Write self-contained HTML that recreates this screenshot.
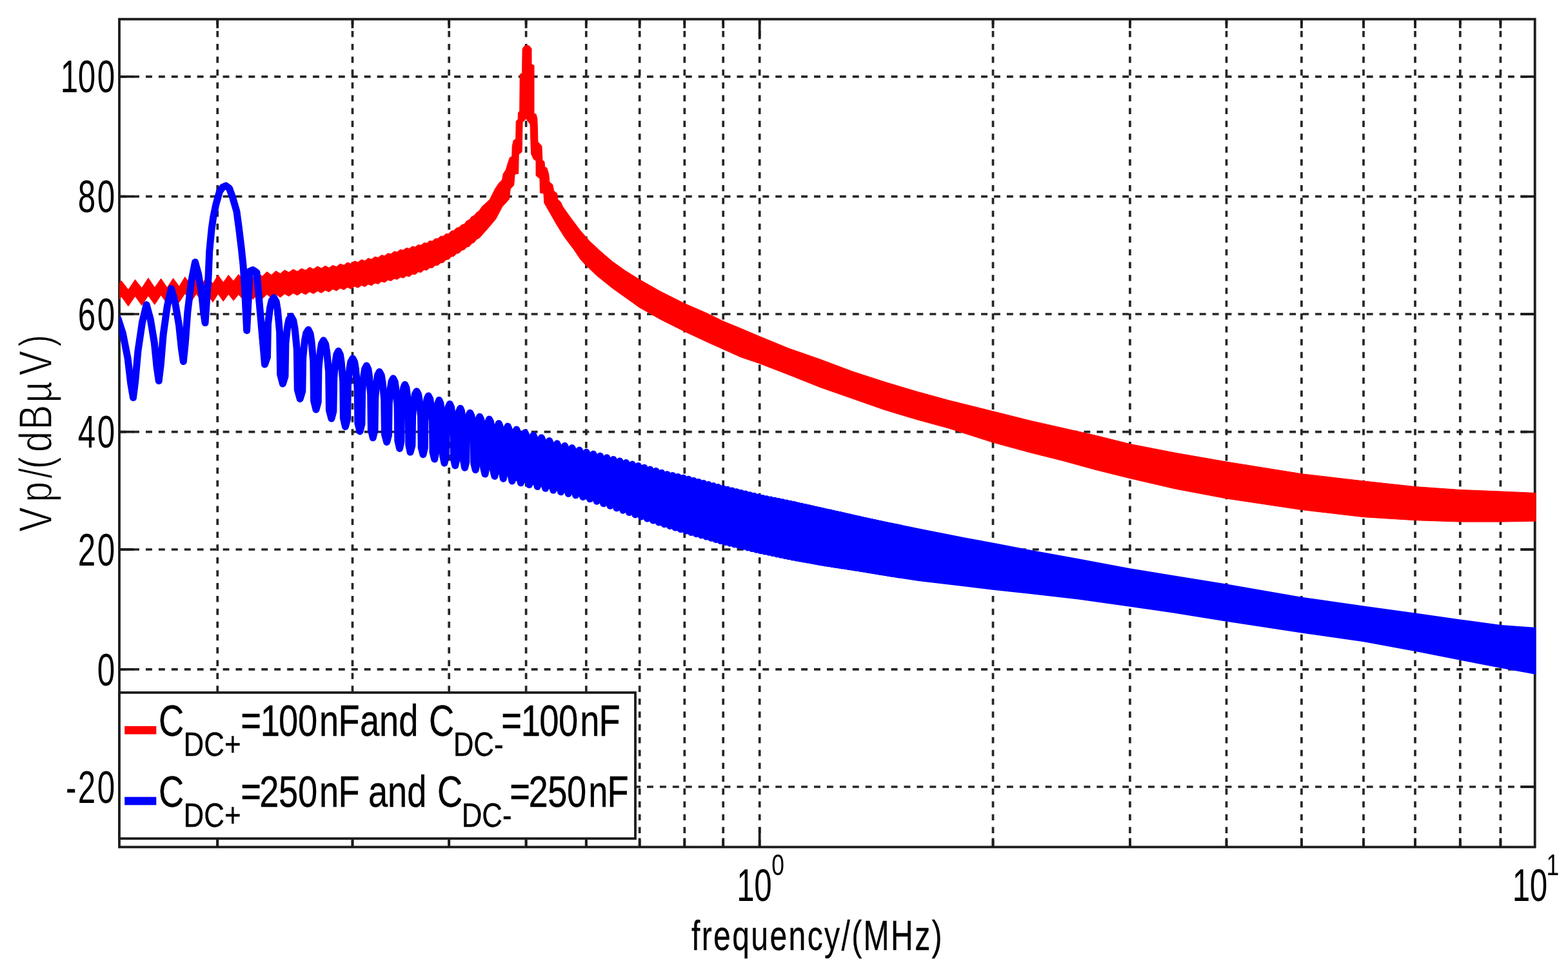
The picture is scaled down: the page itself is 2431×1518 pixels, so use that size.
<!DOCTYPE html>
<html lang="en"><head><meta charset="utf-8"><title>Vp spectrum</title>
<style>
html,body{margin:0;padding:0;background:#fff;}
body{width:2431px;height:1518px;overflow:hidden;}
svg{display:block;font-family:'Liberation Sans', Arial, Helvetica, sans-serif;filter:blur(0.7px);}
</style></head><body>
<svg xmlns="http://www.w3.org/2000/svg" width="2431" height="1518" viewBox="0 0 2431 1518">
<rect x="0" y="0" width="2431" height="1518" fill="#fff"/>
<g stroke="#262626" stroke-width="3.7" fill="none">
<path stroke-dasharray="9.6 10.308" d="M337.2 28.1V1313.4"/>
<path stroke-dasharray="9.6 10.308" d="M546.5 28.1V1313.4"/>
<path stroke-dasharray="9.6 10.308" d="M696.2 28.1V1313.4"/>
<path stroke-dasharray="9.6 10.308" d="M815.6 28.1V1313.4"/>
<path stroke-dasharray="9.6 10.308" d="M908.8 28.1V1313.4"/>
<path stroke-dasharray="9.6 10.308" d="M991.7 28.1V1313.4"/>
<path stroke-dasharray="9.6 10.308" d="M1061.3 28.1V1313.4"/>
<path stroke-dasharray="9.6 10.308" d="M1121.2 28.1V1313.4"/>
<path stroke-dasharray="9.6 10.308" d="M1177.7 28.1V1313.4"/>
<path stroke-dasharray="9.6 10.308" d="M1539.5 28.1V1313.4"/>
<path stroke-dasharray="9.6 10.308" d="M1751.9 28.1V1313.4"/>
<path stroke-dasharray="9.6 10.308" d="M1901.5 28.1V1313.4"/>
<path stroke-dasharray="9.6 10.308" d="M2017.9 28.1V1313.4"/>
<path stroke-dasharray="9.6 10.308" d="M2114.0 28.1V1313.4"/>
<path stroke-dasharray="9.6 10.308" d="M2194.0 28.1V1313.4"/>
<path stroke-dasharray="9.6 10.308" d="M2263.8 28.1V1313.4"/>
<path stroke-dasharray="9.6 10.308" d="M2326.4 28.1V1313.4"/>
<path stroke-dasharray="9.9 10.024" d="M186.15 118.8H2379.7"/>
<path stroke-dasharray="9.9 10.024" d="M186.15 304.7H2379.7"/>
<path stroke-dasharray="9.9 10.024" d="M186.15 487.0H2379.7"/>
<path stroke-dasharray="9.9 10.024" d="M186.15 669.7H2379.7"/>
<path stroke-dasharray="9.9 10.024" d="M186.15 852.0H2379.7"/>
<path stroke-dasharray="9.9 10.024" d="M186.15 1037.9H2379.7"/>
<path stroke-dasharray="9.9 10.024" d="M186.15 1220.0H2379.7"/>
</g>
<g stroke="#1c1c1c" stroke-width="3.8" fill="none" stroke-linecap="butt">
<rect x="185.0" y="29.7" width="2194.7" height="1283.7"/>
<path d="M185.0 118.8h22.5M2379.7 118.8h-22.5"/>
<path d="M185.0 304.7h22.5M2379.7 304.7h-22.5"/>
<path d="M185.0 487.0h22.5M2379.7 487.0h-22.5"/>
<path d="M185.0 669.7h22.5M2379.7 669.7h-22.5"/>
<path d="M185.0 852.0h22.5M2379.7 852.0h-22.5"/>
<path d="M185.0 1037.9h22.5M2379.7 1037.9h-22.5"/>
<path d="M185.0 1220.0h22.5M2379.7 1220.0h-22.5"/>
<path d="M337.2 29.7v14M337.2 1313.4v-14"/>
<path d="M546.5 29.7v14M546.5 1313.4v-14"/>
<path d="M696.2 29.7v14M696.2 1313.4v-14"/>
<path d="M815.6 29.7v14M815.6 1313.4v-14"/>
<path d="M908.8 29.7v14M908.8 1313.4v-14"/>
<path d="M991.7 29.7v14M991.7 1313.4v-14"/>
<path d="M1061.3 29.7v14M1061.3 1313.4v-14"/>
<path d="M1121.2 29.7v14M1121.2 1313.4v-14"/>
<path d="M1177.7 29.7v31M1177.7 1313.4v-31"/>
<path d="M1539.5 29.7v14M1539.5 1313.4v-14"/>
<path d="M1751.9 29.7v14M1751.9 1313.4v-14"/>
<path d="M1901.5 29.7v14M1901.5 1313.4v-14"/>
<path d="M2017.9 29.7v14M2017.9 1313.4v-14"/>
<path d="M2114.0 29.7v14M2114.0 1313.4v-14"/>
<path d="M2194.0 29.7v14M2194.0 1313.4v-14"/>
<path d="M2263.8 29.7v14M2263.8 1313.4v-14"/>
<path d="M2326.4 29.7v14M2326.4 1313.4v-14"/>
</g>
<clipPath id="pc"><rect x="185.0" y="29.7" width="2196.3" height="1283.7"/></clipPath>
<g clip-path="url(#pc)">
<path d="M142.8 436.0L154.5 451.0L166.0 436.0L177.2 451.0L188.2 435.3L198.9 449.3L209.5 433.6L219.8 446.6L229.9 431.1L239.8 445.8L249.6 432.0L259.1 445.9L268.5 431.6L277.8 444.1L286.8 429.3L295.7 442.3L304.5 428.3L313.1 441.0L321.6 427.3L329.9 439.9L338.1 426.5L346.2 437.9L354.2 426.5L362.0 435.7L369.8 425.4L377.4 433.0L384.9 424.0L392.3 430.7L399.6 422.7L406.8 428.5L413.8 421.4L420.8 426.4L427.8 420.1L434.6 424.3L441.3 418.8L447.9 422.3L454.5 417.6L461.0 420.9L467.4 416.3L473.7 419.1L480.0 414.4L486.1 417.2L492.2 412.9L498.3 416.1L504.2 412.2L510.1 415.3L515.9 411.4L521.7 413.6L527.4 409.2L533.1 411.2L538.6 407.0L544.1 408.9L549.6 404.8L555.0 406.6L560.4 402.6L565.7 404.4L570.9 400.4L576.1 402.1L581.2 398.1L586.3 399.4L591.4 395.5L596.4 396.7L601.3 392.8L606.2 393.8L611.1 389.8L615.9 390.7L620.6 386.9L625.4 387.8L630.0 384.3L634.7 385.4L639.3 381.9L643.8 383.0L648.3 379.6L652.8 380.3L657.3 376.6L661.7 377.1L666.0 373.5L670.4 373.9L674.7 370.0L678.9 370.0L683.1 366.2L687.3 366.2L691.5 362.5L695.6 362.5L699.7 358.2L703.8 357.5L707.8 353.3L711.8 352.6L715.8 348.5L719.7 347.6L723.6 342.5L727.5 340.8L731.3 335.9L735.2 334.2L739.0 329.4L742.7 327.1L747.6 320.0L753.6 314.8L759.5 308.9L763.5 301.0L767.5 293.0L773.4 284.1L778.4 279.1L780.4 269.2L784.3 263.3L787.3 253.3L790.3 244.4L793.8 242.4L794.2 226.5L796.2 217.6L799.7 215.6L800.2 187.9L803.2 185.0L803.4 175.0L805.7 172.0L806.2 115.4L809.6 113.4L810.1 75.7L813.0 71.5L817.1 69.8L821.0 71.5L824.0 75.7L824.0 99.5L828.0 101.5L828.0 176.0L831.0 177.0L832.9 183.9L833.9 219.6L839.9 226.5L840.9 248.4L843.8 250.4L844.8 259.3L847.8 260.3L850.8 270.2L851.8 282.1L856.7 286.1L858.7 296.0L863.7 300.0L864.7 308.9L869.6 313.8L872.5 320.4L884.9 337.7L899.8 357.6L914.7 374.5L932.0 390.5L949.5 405.5L969.2 419.6L991.3 433.3L1024.0 451.9L1061.2 470.5L1098.4 486.7L1120.7 497.8L1148.0 509.0L1177.3 521.4L1222.4 540.0L1272.0 557.3L1321.7 575.9L1371.3 592.1L1420.9 606.9L1470.5 620.6L1539.4 637.7L1598.4 652.5L1648.0 663.7L1697.6 674.9L1752.2 688.5L1821.7 702.1L1901.4 716.0L2018.0 734.7L2114.3 745.9L2194.1 754.6L2264.1 759.5L2327.1 762.0L2390.0 764.8L2390.0 807.9L2327.1 809.1L2264.1 809.1L2194.1 806.7L2114.3 801.7L2018.0 790.5L1901.4 773.0L1821.7 757.9L1752.2 741.8L1697.6 728.2L1648.0 714.5L1598.4 702.1L1539.4 686.0L1470.5 664.0L1420.9 650.4L1371.3 635.5L1321.7 618.1L1272.0 600.7L1222.4 580.9L1177.3 563.5L1148.0 553.6L1120.7 541.2L1098.4 531.3L1061.2 513.9L1024.0 495.3L991.3 476.7L949.6 447.0L924.8 427.1L907.2 410.0L900.0 402.3L889.9 387.3L875.0 367.5L862.6 347.6L852.7 330.3L846.8 320.0L843.8 314.8L842.9 300.0L837.4 299.0L836.9 277.1L831.0 272.2L831.0 249.4L827.0 246.4L823.5 238.5L822.0 192.8L815.6 183.9L810.1 189.8L809.1 235.5L804.2 239.4L803.7 269.2L798.2 270.2L796.7 287.1L791.3 293.0L789.3 308.9L781.3 317.8L778.6 320.8L768.7 339.6L758.7 351.5L743.8 368.4L742.7 369.3L739.0 371.1L735.2 375.9L731.3 377.7L727.5 382.3L723.6 383.1L719.7 387.3L715.8 388.2L711.8 392.5L707.8 393.2L703.8 397.3L699.7 397.9L695.6 402.2L691.5 402.8L687.3 407.2L683.1 407.6L678.9 411.4L674.7 411.4L670.4 415.3L666.0 415.3L661.7 419.0L657.3 418.5L652.8 422.3L648.3 421.7L643.8 425.6L639.3 425.0L634.7 428.9L630.0 427.7L625.4 431.1L620.6 429.8L615.9 433.3L611.1 432.0L606.2 435.5L601.3 434.2L596.4 437.9L591.4 436.5L586.3 440.3L581.2 438.9L576.1 442.7L570.9 440.8L565.7 444.5L560.4 442.4L555.0 446.2L549.6 444.1L544.1 447.9L538.6 445.5L533.1 449.3L527.4 446.8L521.7 450.9L515.9 448.4L510.1 452.6L504.2 450.1L498.3 454.2L492.2 451.2L486.1 455.4L480.0 452.4L473.7 456.7L467.4 453.5L461.0 457.9L454.5 454.6L447.9 459.3L441.3 455.7L434.6 461.0L427.8 456.3L420.8 462.0L413.8 456.5L406.8 463.0L399.6 456.6L392.3 464.0L384.9 456.8L377.4 465.1L369.8 456.6L362.0 466.1L354.2 456.1L346.2 467.2L338.1 455.7L329.9 468.6L321.6 455.6L313.1 468.7L304.5 455.4L295.7 468.7L286.8 455.1L277.8 468.8L268.5 456.0L259.1 470.9L249.6 457.5L239.8 472.3L229.9 458.5L219.8 473.4L209.5 459.4L198.9 474.7L188.2 459.8L177.2 474.5L166.0 459.5L154.5 474.5L142.8 459.5Z" fill="#ff0000" stroke="#ff0000" stroke-width="1" stroke-linejoin="round"/>
<path d="M183.0 494.0L190.5 517.3L198.0 555.2L202.7 594.5L206.5 616.5L209.8 590.6L213.9 544.5L220.5 499.9L227.1 472.5L233.2 494.9L239.3 531.5L243.1 569.3L246.2 590.5L249.3 564.8L253.1 519.0L259.3 474.7L265.5 447.5L271.5 469.0L277.5 504.0L281.3 540.2L284.3 560.5L287.2 532.8L290.9 483.5L296.7 435.8L302.5 406.5L307.5 424.4L312.4 453.5L315.5 483.6L318.0 500.5L323.0 430.0L324.7 389.7L328.0 355.8L330.8 336.0L334.6 317.8L340.4 297.0L345.0 290.5L350.3 288.0L355.5 292.0L360.2 304.6L366.9 327.7L370.5 354.2L374.3 385.6L377.1 412.0L379.3 445.1L382.6 512.5L387.5 420.5L392.0 418.5L398.0 422.5L410.5 565.0L414.5 553.6L415.5 502.9L416.6 493.6L418.7 477.0L421.0 466.7L424.7 461.5L428.3 468.2L430.5 481.5L432.5 502.9L433.6 514.9L434.6 580.3L438.4 595.0L442.0 583.5L442.9 532.3L443.9 522.9L445.8 506.2L447.9 495.7L451.2 490.5L454.8 496.9L457.1 509.7L459.2 530.2L460.3 541.7L461.3 604.4L465.2 618.5L468.8 606.7L469.7 554.2L470.7 544.5L472.6 527.4L474.7 516.7L478.0 511.3L481.1 517.5L483.0 529.9L484.8 549.7L485.8 560.8L486.6 621.5L490.0 635.1L493.2 623.3L494.0 570.7L494.9 561.1L496.7 543.9L498.5 533.2L501.5 527.8L504.7 533.9L506.7 546.0L508.6 565.4L509.6 576.3L510.4 635.8L513.9 649.1L516.9 637.6L517.7 586.2L518.5 576.8L520.2 560.0L521.9 549.5L524.7 544.3L527.5 550.2L529.2 561.9L530.8 580.6L531.7 591.2L532.4 648.6L535.4 661.5L538.6 649.9L539.4 598.1L540.3 588.6L542.0 571.7L543.8 561.2L546.8 555.9L549.7 561.5L551.5 572.9L553.2 590.9L554.1 601.1L554.9 656.5L558.0 668.9L560.9 657.7L561.6 607.8L562.4 598.6L564.0 582.3L565.6 572.1L568.3 567.0L570.9 572.6L572.5 583.8L573.9 601.7L574.7 611.7L575.4 666.5L578.2 678.8L581.0 667.5L581.7 617.4L582.5 608.2L584.0 591.8L585.6 581.6L588.2 576.5L591.2 582.0L593.0 592.9L594.8 610.3L595.7 620.1L596.5 673.5L599.7 685.5L602.5 674.6L603.2 626.3L604.0 617.4L605.4 601.6L607.0 591.7L609.6 586.8L612.2 592.2L613.8 603.1L615.3 620.5L616.1 630.2L616.8 683.5L619.6 695.4L621.9 684.5L622.5 636.0L623.1 627.1L624.4 611.2L625.7 601.4L627.8 596.4L630.0 601.6L631.3 612.1L632.5 628.9L633.2 638.3L633.8 689.6L636.1 701.1L638.9 690.7L639.6 644.5L640.4 636.0L641.8 620.9L643.4 611.4L646.0 606.7L648.6 611.6L650.2 621.4L651.7 637.1L652.5 645.9L653.2 694.0L656.0 704.8L658.3 694.8L658.9 650.2L659.5 642.0L660.8 627.4L662.1 618.3L664.2 613.8L666.7 618.7L668.2 628.5L669.6 644.2L670.4 653.0L671.0 701.1L673.7 711.9L675.7 701.8L676.2 657.0L676.8 648.8L677.8 634.1L679.0 625.0L680.8 620.4L682.9 625.3L684.2 635.1L685.5 650.7L686.1 659.5L686.7 707.4L689.0 718.1L691.3 708.0L691.9 663.1L692.6 654.9L693.8 640.2L695.1 631.1L697.3 626.5L699.5 631.3L700.8 640.8L702.1 656.1L702.8 664.7L703.3 711.4L705.7 721.9L708.0 712.1L708.5 668.7L709.2 660.7L710.4 646.5L711.7 637.6L713.8 633.2L715.6 637.8L716.7 647.0L717.7 661.7L718.2 670.0L718.7 715.1L720.6 725.2L722.9 715.9L723.4 674.2L724.1 666.6L725.3 653.0L726.6 644.5L728.7 640.2L730.9 644.6L732.3 653.4L733.5 667.6L734.2 675.5L734.8 718.8L737.2 728.5L739.0 719.4L739.4 679.0L740.0 671.6L740.9 658.4L741.9 650.1L743.6 646.0L745.8 650.5L747.1 659.4L748.4 673.6L749.1 681.6L749.6 725.3L752.0 735.1L753.8 725.8L754.3 684.1L754.8 676.5L755.8 662.9L756.8 654.4L758.5 650.1L760.7 654.5L762.0 663.3L763.3 677.5L764.0 685.4L764.5 728.7L766.9 738.4L768.7 729.4L769.1 689.4L769.7 682.0L770.6 669.0L771.6 660.8L773.3 656.7L775.1 661.0L776.2 669.5L777.3 683.2L777.9 690.9L778.3 732.8L780.3 742.2L782.2 733.2L782.7 693.4L783.3 686.1L784.3 673.2L785.4 665.0L787.2 661.0L789.0 665.2L790.1 673.7L791.1 687.3L791.7 694.9L792.1 736.6L794.0 745.9L795.9 737.1L796.4 698.0L796.9 690.8L797.9 678.0L799.0 670.0L800.8 666.0L802.5 670.1L803.6 678.4L804.6 691.7L805.1 699.1L805.6 739.7L807.4 748.8L809.3 740.2L809.7 702.0L810.2 695.0L811.2 682.6L812.3 674.8L814.0 670.9L815.7 674.9L816.7 683.0L817.7 695.9L818.2 703.2L818.7 742.7L820.5 751.6L822.3 743.2L822.7 705.5L823.2 698.6L824.2 686.3L825.2 678.7L826.9 674.8L828.5 678.8L829.5 686.8L830.5 699.5L831.0 706.7L831.4 745.7L833.2 754.5L835.0 746.2L835.4 709.0L835.9 702.2L836.8 690.1L837.8 682.5L839.5 678.7L841.1 682.7L842.1 690.5L843.0 703.1L843.5 710.2L843.9 748.7L845.6 757.3L847.3 749.2L847.8 713.1L848.3 706.4L849.2 694.6L850.2 687.3L851.7 683.6L853.3 687.4L854.3 695.0L855.2 707.3L855.7 714.2L856.1 751.7L857.8 760.1L859.4 752.1L859.9 716.7L860.3 710.2L861.2 698.7L862.2 691.4L863.7 687.8L865.3 691.6L866.2 699.1L867.1 711.1L867.6 717.8L868.0 754.5L869.6 762.8L871.3 754.9L871.7 719.9L872.1 713.4L873.0 702.0L874.0 694.8L875.5 691.3L877.0 695.0L877.9 702.4L878.8 714.2L879.2 720.9L879.6 757.2L881.2 765.4L882.8 757.6L883.2 722.9L883.7 716.6L884.5 705.2L885.5 698.2L886.9 694.6L888.4 698.3L889.3 705.6L890.2 717.4L890.6 724.0L891.0 759.9L892.6 767.9L894.1 760.3L894.5 726.0L895.0 719.7L895.8 708.5L896.7 701.5L898.2 698.0L899.6 701.6L900.5 708.8L901.3 720.4L901.8 727.0L902.1 762.5L903.7 770.5L905.2 762.8L905.6 728.9L906.0 722.7L906.9 711.6L907.7 704.7L909.2 701.2L910.6 704.9L911.4 712.1L912.2 723.7L912.7 730.2L913.1 765.7L914.6 773.6L916.1 766.0L916.4 731.9L916.9 725.7L917.7 714.6L918.5 707.6L919.9 704.1L921.3 707.8L922.1 715.1L922.9 726.8L923.4 733.4L923.7 769.2L925.2 777.3L926.7 769.5L927.1 735.1L927.5 728.8L928.3 717.5L929.1 710.5L930.5 707.0L931.8 710.7L932.6 718.0L933.4 729.9L933.8 736.5L934.2 772.7L935.7 780.8L937.1 773.0L937.5 738.2L937.9 731.8L938.6 720.4L939.5 713.3L940.8 709.7L942.1 713.5L942.9 720.9L943.7 732.9L944.1 739.6L944.5 776.1L945.9 784.3L947.3 776.4L947.7 741.2L948.1 734.7L948.8 723.2L949.6 716.0L950.9 712.4L952.2 716.2L953.0 723.7L953.8 735.8L954.2 742.6L954.5 779.5L955.9 787.8L957.3 779.8L957.7 744.1L958.1 737.6L958.8 725.9L959.6 718.7L960.9 715.0L962.2 718.8L962.9 726.5L963.7 738.6L964.1 745.5L964.4 782.8L965.8 791.2L967.1 783.1L967.5 747.0L967.9 740.4L968.6 728.6L969.4 721.3L970.6 717.6L971.9 721.4L972.7 729.1L973.4 741.4L973.8 748.4L974.1 786.1L975.5 794.6L976.8 786.4L977.1 749.9L977.5 743.2L978.2 731.3L979.0 723.8L980.2 720.1L981.4 724.0L982.2 731.7L982.9 744.2L983.3 751.2L983.6 789.3L984.9 797.9L986.3 789.6L986.6 752.7L987.0 745.9L987.7 733.8L988.4 726.3L989.6 722.5L990.8 726.5L991.6 734.3L992.3 746.9L992.6 753.9L993.0 792.4L994.3 801.0L995.6 792.7L995.9 755.6L996.2 748.7L996.9 736.6L997.7 729.0L998.9 725.2L1000.1 729.2L1000.8 737.1L1001.5 749.7L1001.8 756.8L1002.1 795.4L1003.4 804.1L1004.7 795.7L1005.0 758.4L1005.4 751.5L1006.0 739.4L1006.8 731.8L1007.9 728.0L1012.4 807.0L1016.9 730.6L1021.3 809.9L1025.6 733.3L1030.0 812.8L1034.3 735.7L1038.5 815.5L1042.8 737.6L1047.0 818.1L1051.1 739.4L1055.2 820.6L1059.3 741.2L1063.4 823.1L1067.4 743.3L1071.4 825.4L1075.4 745.4L1079.3 827.7L1083.2 747.5L1087.1 829.9L1091.0 749.6L1094.8 832.1L1098.6 751.6L1102.4 834.3L1106.1 753.6L1109.8 836.5L1113.5 755.6L1117.2 838.6L1120.8 757.5L1124.4 840.5L1128.0 759.3L1131.6 842.2L1135.1 761.0L1138.6 843.9L1142.1 762.7L1145.6 845.6L1149.0 764.4L1152.5 847.3L1155.9 766.1L1159.3 848.9L1162.6 767.7L1165.9 850.6L1169.3 769.3L1172.6 852.2L1175.8 770.9L1179.1 853.7L1182.3 772.4L1185.5 855.0L1188.7 773.7L1191.9 856.3L1195.0 775.0L1198.2 857.6L1201.3 776.3L1204.4 858.9L1207.5 777.6L1210.5 860.2L1213.6 778.8L1216.6 861.5L1219.6 780.1L1222.6 862.7L1225.6 781.3L1228.5 863.9L1231.5 782.5L1234.4 865.0L1237.3 783.9L1240.2 866.1L1243.1 785.2L1246.0 867.1L1248.8 786.5L1251.6 868.1L1254.4 787.7L1257.2 869.0L1260.0 789.0L1262.8 870.0L1265.5 790.2L1268.3 871.0L1271.0 791.5L1273.7 871.9L1276.4 792.7L1279.1 872.9L1281.8 793.9L1284.4 873.7L1287.1 795.1L1289.7 874.5L1292.3 796.3L1294.9 875.3L1297.5 797.5L1300.1 876.1L1302.7 798.6L1305.2 876.9L1307.8 799.8L1310.3 877.6L1312.8 800.9L1315.3 878.4L1317.8 802.0L1320.3 879.2L1322.8 803.2L1325.2 879.9L1327.7 804.3L1330.1 880.6L1332.5 805.3L1334.9 881.4L1337.3 806.4L1339.7 882.2L1342.1 807.5L1344.5 883.0L1346.8 808.6L1349.2 883.8L1351.5 809.6L1353.8 884.6L1356.1 810.6L1358.4 885.3L1360.7 811.7L1363.0 886.1L1365.3 812.6L1367.6 886.8L1369.8 813.5L1372.1 887.5L1374.3 814.4L1376.5 888.2L1378.7 815.4L1381.0 888.9L1383.2 816.3L1385.3 889.6L1387.5 817.2L1389.7 890.2L1391.9 818.1L1394.0 890.9L1396.2 819.0" fill="none" stroke="#0000ff" stroke-width="11.0" stroke-linejoin="round" stroke-linecap="round"/><path d="M790.0 663.5L800.0 667.0L810.0 670.6L820.0 673.8L830.0 676.5L840.0 679.5L850.0 683.3L860.0 687.0L870.0 689.7L880.0 692.5L890.0 695.2L900.0 698.0L910.0 700.8L920.0 703.2L930.0 705.7L940.0 708.2L950.0 710.7L960.0 713.1L970.0 715.5L980.0 717.9L990.0 720.3L1000.0 723.1L1010.0 726.0L1020.0 728.9L1030.0 731.8L1040.0 734.1L1050.0 736.2L1060.0 738.3L1070.0 740.8L1080.0 743.3L1090.0 745.9L1100.0 748.5L1110.0 751.0L1120.0 753.6L1130.0 756.0L1140.0 758.3L1150.0 760.6L1160.0 763.0L1170.0 765.3L1180.0 767.6L1190.0 769.5L1200.0 771.5L1210.0 773.5L1220.0 775.5L1230.0 777.4L1240.0 779.6L1250.0 781.7L1260.0 783.9L1270.0 786.2L1280.0 788.4L1290.0 790.6L1300.0 792.8L1310.0 795.1L1320.0 797.3L1330.0 799.5L1340.0 801.7L1350.0 803.9L1360.0 806.1L1370.0 808.2L1380.0 810.2L1390.0 812.2L1424.0 819.2L1498.4 834.1L1539.4 841.5L1597.6 852.7L1672.0 866.3L1751.9 881.2L1820.9 892.4L1900.0 905.3L2018.0 925.7L2114.3 939.4L2194.1 950.5L2264.1 960.4L2327.1 969.1L2390.0 973.5L2390.0 1047.5L2327.1 1036.1L2264.1 1023.7L2194.1 1010.0L2114.3 995.2L2018.0 981.5L1900.0 963.5L1820.9 950.7L1751.9 940.8L1672.0 929.6L1597.6 920.9L1539.4 914.7L1498.4 909.7L1424.0 901.1L1390.0 895.8L1380.0 894.2L1370.0 892.6L1360.0 891.0L1350.0 889.3L1340.0 887.6L1330.0 885.9L1320.0 884.3L1310.0 882.8L1300.0 881.3L1290.0 879.7L1280.0 878.1L1270.0 876.4L1260.0 874.6L1250.0 872.8L1240.0 870.9L1230.0 869.0L1220.0 866.9L1210.0 864.7L1200.0 862.5L1190.0 860.3L1180.0 858.2L1170.0 855.7L1160.0 853.2L1150.0 850.7L1140.0 848.2L1130.0 845.7L1120.0 843.1L1110.0 840.1L1100.0 837.1L1090.0 834.1L1080.0 831.1L1070.0 828.2L1060.0 825.2L1050.0 822.0L1040.0 818.8L1030.0 815.6L1020.0 812.2L1010.0 808.8L1000.0 805.4L990.0 801.9L980.0 798.2L970.0 794.6L960.0 790.9L950.0 787.2L940.0 783.6L930.0 780.0L920.0 776.4L910.0 772.8L900.0 770.1L890.0 767.7L880.0 765.2L870.0 762.8L860.0 760.4L850.0 757.9L840.0 755.4L830.0 753.0L820.0 750.5L810.0 748.2L800.0 745.8L790.0 743.4Z" fill="#0000ff"/>
</g>
<rect x="185.0" y="1073.9" width="800.0" height="226.3" fill="#fff" stroke="#1c1c1c" stroke-width="3.8"/>
<rect x="193.2" y="1125.9" width="49.1" height="12.6" fill="#f00"/>
<rect x="193.2" y="1235.7" width="49.1" height="12.6" fill="#00f"/>
<text transform="translate(0 143.45) scale(0.7000 1)" font-size="70.50" x="133.8 172.4 215.5" y="0" fill="#000">100</text>
<text transform="translate(0 329.40) scale(0.7000 1)" font-size="70.50" x="172.4 215.5" y="0" fill="#000">80</text>
<text transform="translate(0 511.70) scale(0.7000 1)" font-size="70.50" x="172.4 215.5" y="0" fill="#000">60</text>
<text transform="translate(0 694.40) scale(0.7000 1)" font-size="70.50" x="172.4 215.5" y="0" fill="#000">40</text>
<text transform="translate(0 876.70) scale(0.7000 1)" font-size="70.50" x="172.4 215.5" y="0" fill="#000">20</text>
<text transform="translate(0 1062.60) scale(0.7000 1)" font-size="70.50" x="215.5" y="0" fill="#000">0</text>
<text transform="translate(0 1244.70) scale(0.7000 1)" font-size="70.50" x="145.7 172.4 215.5" y="0" fill="#000">-20</text>
<text transform="translate(0 1397.20) scale(0.7000 1)" font-size="70.50" x="1631.8 1670.4" y="0" fill="#000">10</text>
<text transform="translate(1196.22 1356.80) scale(0.7600 1)" font-size="46.50" text-anchor="start" fill="#000" xml:space="preserve">0</text>
<text transform="translate(0 1397.20) scale(0.7000 1)" font-size="70.50" x="3349.7 3388.3" y="0" fill="#000">10</text>
<text transform="translate(2397.41 1356.80) scale(0.7600 1)" font-size="46.50" text-anchor="start" fill="#000" xml:space="preserve">1</text>
<text transform="translate(1071.92 1473.40) scale(0.7470 1)" font-size="64.50" text-anchor="start" fill="#000" letter-spacing="3.13" stroke="#000" stroke-width="0.3" stroke-linejoin="round" xml:space="preserve">frequency/(MHz)</text>
<text transform="translate(80.4 824.6) rotate(-90) scale(0.8 1)" font-size="72.0" x="-0.1 57.2 103.5 121.7 154.5 198.1 250.2 303.1 358.5" y="0" fill="#000" stroke="#fff" stroke-width="1.3">Vp/(dBµV)</text>
<text transform="translate(246.04 1141.20) scale(0.7870 1)" font-size="69.00" text-anchor="start" fill="#000" stroke="#000" stroke-width="0.4" stroke-linejoin="round" xml:space="preserve">C</text>
<text transform="translate(284.60 1172.20) scale(0.8350 1)" font-size="52.50" text-anchor="start" fill="#000" stroke="#000" stroke-width="0.4" stroke-linejoin="round" xml:space="preserve">DC+</text>
<text transform="translate(0 1141.20) scale(0.7870 1)" font-size="69.00" x="474.2 513.0 549.0 586.9 629.0 666.4" y="0" fill="#000" stroke="#000" stroke-width="0.4" stroke-linejoin="round">=100nF</text>
<text transform="translate(557.89 1141.20) scale(0.7870 1)" font-size="69.00" text-anchor="start" fill="#000" stroke="#000" stroke-width="0.4" stroke-linejoin="round" xml:space="preserve">and</text>
<text transform="translate(664.94 1141.20) scale(0.7870 1)" font-size="69.00" text-anchor="start" fill="#000" stroke="#000" stroke-width="0.4" stroke-linejoin="round" xml:space="preserve">C</text>
<text transform="translate(702.70 1172.20) scale(0.8350 1)" font-size="52.50" text-anchor="start" fill="#000" stroke="#000" stroke-width="0.4" stroke-linejoin="round" xml:space="preserve">DC-</text>
<text transform="translate(0 1141.20) scale(0.7870 1)" font-size="69.00" x="987.6 1026.4 1062.5 1100.4 1142.5 1179.9" y="0" fill="#000" stroke="#000" stroke-width="0.4" stroke-linejoin="round">=100nF</text>
<text transform="translate(246.04 1250.60) scale(0.7870 1)" font-size="69.00" text-anchor="start" fill="#000" stroke="#000" stroke-width="0.4" stroke-linejoin="round" xml:space="preserve">C</text>
<text transform="translate(284.60 1281.60) scale(0.8350 1)" font-size="52.50" text-anchor="start" fill="#000" stroke="#000" stroke-width="0.4" stroke-linejoin="round" xml:space="preserve">DC+</text>
<text transform="translate(0 1250.60) scale(0.7870 1)" font-size="69.00" x="474.2 511.2 549.0 586.9 629.0 666.4" y="0" fill="#000" stroke="#000" stroke-width="0.4" stroke-linejoin="round">=250nF</text>
<text transform="translate(570.89 1250.60) scale(0.7870 1)" font-size="69.00" text-anchor="start" fill="#000" stroke="#000" stroke-width="0.4" stroke-linejoin="round" xml:space="preserve">and</text>
<text transform="translate(677.94 1250.60) scale(0.7870 1)" font-size="69.00" text-anchor="start" fill="#000" stroke="#000" stroke-width="0.4" stroke-linejoin="round" xml:space="preserve">C</text>
<text transform="translate(715.70 1281.60) scale(0.8350 1)" font-size="52.50" text-anchor="start" fill="#000" stroke="#000" stroke-width="0.4" stroke-linejoin="round" xml:space="preserve">DC-</text>
<text transform="translate(0 1250.60) scale(0.7870 1)" font-size="69.00" x="1004.1 1041.2 1079.0 1116.9 1159.0 1196.4" y="0" fill="#000" stroke="#000" stroke-width="0.4" stroke-linejoin="round">=250nF</text>
</svg>
</body></html>
